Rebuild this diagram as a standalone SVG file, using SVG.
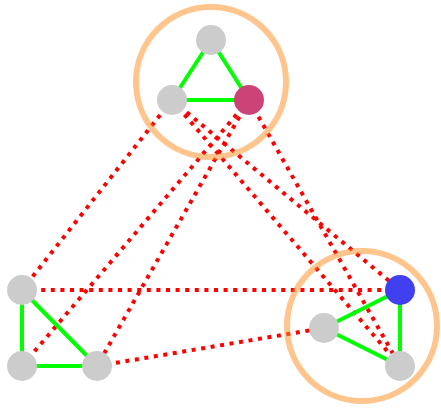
<svg xmlns="http://www.w3.org/2000/svg" width="441" height="408" viewBox="0 0 441 408">
<style>
.inter{stroke:#ff0000;stroke-width:4;stroke-dasharray:4 5.6;fill:none}
.intra{stroke:#00ff00;stroke-width:4;fill:none}
.hull{fill:none;stroke:#ff8c1a;stroke-opacity:0.5;stroke-width:6}
.n{stroke:none}
.gray{fill:#cccccc}
</style>
<rect width="441" height="408" fill="#ffffff"/>
<g id="connectors">
<line class="inter" x1="172" y1="100" x2="22" y2="290"/>
<line class="inter" x1="172" y1="100" x2="400" y2="290"/>
<line class="inter" x1="172" y1="100" x2="400" y2="366"/>
<line class="inter" x1="249" y1="100" x2="22" y2="366"/>
<line class="inter" x1="249" y1="100" x2="97" y2="366"/>
<line class="inter" x1="249" y1="100" x2="400" y2="366"/>
<line class="inter" x1="22" y1="290" x2="400" y2="290"/>
<line class="inter" x1="97" y1="366" x2="324" y2="328"/>
<line class="intra" x1="211" y1="40" x2="172" y2="100"/>
<line class="intra" x1="211" y1="40" x2="249" y2="100"/>
<line class="intra" x1="172" y1="100" x2="249" y2="100"/>
<line class="intra" x1="400" y1="290" x2="324" y2="328"/>
<line class="intra" x1="400" y1="290" x2="400" y2="366"/>
<line class="intra" x1="324" y1="328" x2="400" y2="366"/>
<line class="intra" x1="22" y1="290" x2="22" y2="366"/>
<line class="intra" x1="22" y1="290" x2="97" y2="366"/>
<line class="intra" x1="22" y1="366" x2="97" y2="366"/>
</g>
<g id="groups">
<circle id="group-top" class="hull" cx="211" cy="82" r="75"/>
<circle id="group-right" class="hull" cx="362" cy="326" r="75"/>
</g>
<g id="node-top"><circle class="n gray" cx="211" cy="40" r="15"/></g>
<g id="node-top-left"><circle class="n gray" cx="172" cy="100" r="15"/></g>
<g id="node-top-right"><circle class="n" fill="#cc4477" cx="249" cy="100" r="15"/></g>
<g id="node-right-blue"><circle class="n" fill="#4040f0" cx="400" cy="290" r="15"/></g>
<g id="node-right-left"><circle class="n gray" cx="324" cy="328" r="15"/></g>
<g id="node-right-bottom"><circle class="n gray" cx="400" cy="366" r="15"/></g>
<g id="node-left-top"><circle class="n gray" cx="22" cy="290" r="15"/></g>
<g id="node-left-bottom"><circle class="n gray" cx="22" cy="366" r="15"/></g>
<g id="node-left-right"><circle class="n gray" cx="97" cy="366" r="15"/></g>
</svg>
